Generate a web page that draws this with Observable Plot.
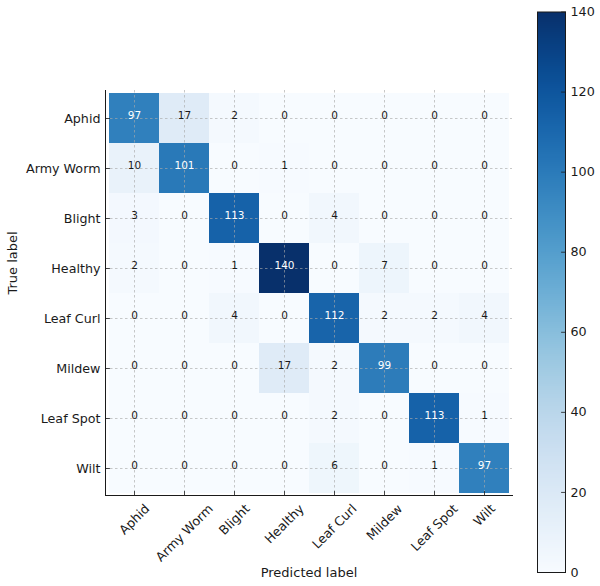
<!DOCTYPE html>
<html>
<head>
<meta charset="utf-8">
<script src="https://cdn.jsdelivr.net/npm/d3@7"></script>
<script src="https://cdn.jsdelivr.net/npm/@observablehq/plot@0.6"></script>
<style>
  html, body { margin: 0; padding: 0; background: #fff; }
  #wrap { position: relative; width: 600px; height: 586px; }
  #wrap svg { position: absolute; left: 0; top: 0; }
</style>
</head>
<body>
<div id="wrap"></div>
<script>
const labels = ["Aphid", "Army Worm", "Blight", "Healthy", "Leaf Curl", "Mildew", "Leaf Spot", "Wilt"];
const row_Aphid    = [97, 17, 2, 0, 0, 0, 0, 0];
const row_ArmyWorm = [10, 101, 0, 1, 0, 0, 0, 0];
const row_Blight   = [3, 0, 113, 0, 4, 0, 0, 0];
const row_Healthy  = [2, 0, 1, 140, 0, 7, 0, 0];
const row_LeafCurl = [0, 0, 4, 0, 112, 2, 2, 4];
const row_Mildew   = [0, 0, 0, 17, 2, 99, 0, 0];
const row_LeafSpot = [0, 0, 0, 0, 2, 0, 113, 1];
const row_Wilt     = [0, 0, 0, 0, 6, 0, 1, 97];
const colorbarTicks = [0, 20, 40, 60, 80, 100, 120, 140];
const colorMax = 140;

const rows = [row_Aphid, row_ArmyWorm, row_Blight, row_Healthy, row_LeafCurl, row_Mildew, row_LeafSpot, row_Wilt];
const cells = [];
rows.forEach((r, i) => r.forEach((v, j) => cells.push({truth: labels[i], pred: labels[j], value: v})));

const FONT = "DejaVu Sans";
const FS = 12.7;
const FSL = 13;
const ink = "#1a1a1a";

const canvas = document.createElement("canvas");
const ctx = canvas.getContext("2d");
ctx.font = `${FS}px "${FONT}"`;
const lineH = FS * 1.164;

const tickShapeUp = {draw(c, l) { c.moveTo(0, 0); c.lineTo(0, -l); }};

const colorOpts = {type: "linear", scheme: "blues", domain: [0, colorMax]};

const xLabelMarks = labels.map(lab => {
  const w = ctx.measureText(lab).width;
  const H = (w + lineH) * Math.SQRT1_2;
  return Plot.text([lab], {
    x: d => d, frameAnchor: "bottom", dy: 6 + H / 2,
    text: d => d, rotate: -45, textAnchor: "middle", lineAnchor: "middle",
    fontSize: FS, fill: ink
  });
});

const main = Plot.plot({
  width: 600, height: 586,
  marginLeft: 105, marginRight: 88, marginTop: 90, marginBottom: 91,
  style: {fontFamily: FONT, background: "transparent"},
  x: {domain: labels, padding: 0, axis: null},
  y: {domain: labels, padding: 0, axis: null},
  color: colorOpts,
  marks: [
    Plot.cell(cells, {x: "pred", y: "truth", fill: "value", inset: 0}),
    Plot.gridX(labels, {stroke: "#a8a8a8", strokeOpacity: 0.8, strokeDasharray: "2.5,2.5", strokeWidth: 0.8}),
    Plot.gridY(labels, {stroke: "#a8a8a8", strokeOpacity: 0.8, strokeDasharray: "2.5,2.5", strokeWidth: 0.8}),
    Plot.text(cells, {
      x: "pred", y: "truth", text: d => String(d.value),
      fill: d => d.value > colorMax / 2 ? "white" : ink,
      fontSize: 10.5, lineAnchor: "bottom", textAnchor: "middle"
    }),
    Plot.vector(labels, {x: d => d, frameAnchor: "bottom", rotate: 0, length: 4, anchor: "start", shape: tickShapeUp, stroke: ink, strokeWidth: 0.8}),
    Plot.vector(labels, {y: d => d, frameAnchor: "left", rotate: 90, length: 4, anchor: "start", shape: tickShapeUp, stroke: ink, strokeWidth: 0.8}),
    Plot.axisY(labels, {anchor: "left", tickSize: 0, tickPadding: 5, fontSize: FS, fill: ink, label: null}),
    ...xLabelMarks,
    Plot.frame({anchor: "left", stroke: ink, strokeWidth: 1}),
    Plot.frame({anchor: "bottom", stroke: ink, strokeWidth: 1}),
    Plot.text(["Predicted label"], {frameAnchor: "bottom", dy: 77, text: d => d, fontSize: FSL, fill: ink, lineAnchor: "middle"}),
    Plot.text(["True label"], {frameAnchor: "left", dx: -92.5, dy: 1.5, text: d => d, rotate: -90, fontSize: FSL, fill: ink, lineAnchor: "middle"})
  ]
});

const step = 0.5;
const bands = d3.range(0, colorMax, step);
const cbar = Plot.plot({
  width: 600, height: 586,
  marginLeft: 537, marginRight: 35, marginTop: 11.5, marginBottom: 14,
  style: {fontFamily: FONT, background: "transparent"},
  y: {domain: [0, colorMax], axis: null},
  color: colorOpts,
  marks: [
    Plot.rect(bands, {y1: d => d, y2: d => Math.min(colorMax, d + step * 1.3), fill: d => d + step / 2, shapeRendering: "crispEdges"}),
    Plot.frame({stroke: ink, strokeWidth: 1}),
    Plot.vector(colorbarTicks, {y: d => d, frameAnchor: "right", rotate: -90, length: 4, anchor: "start", shape: tickShapeUp, stroke: ink, strokeWidth: 0.8}),
    Plot.axisY(colorbarTicks, {anchor: "right", tickSize: 0, tickPadding: 5, fontSize: FS, fill: ink, label: null})
  ]
});

const wrap = document.getElementById("wrap");
wrap.appendChild(main);
wrap.appendChild(cbar);
</script>
</body>
</html>
